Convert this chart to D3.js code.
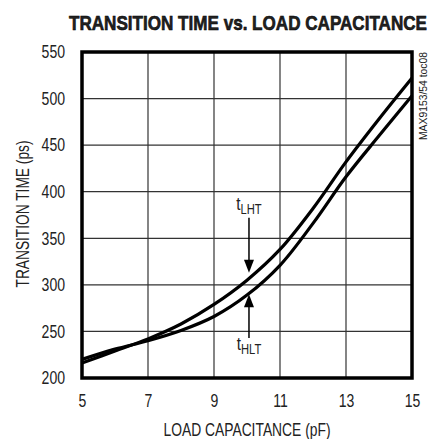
<!DOCTYPE html>
<html>
<head>
<meta charset="utf-8">
<script src="https://cdn.jsdelivr.net/npm/d3@7"></script>
<style>
  body { margin: 0; background: #fff; }
  svg text { font-family: "Liberation Sans", "DejaVu Sans", sans-serif; fill: #222; }
</style>
</head>
<body>
<svg id="chart" width="430" height="439"></svg>
<script>
const capacitance = [5, 6, 7, 8, 9, 10, 11, 12, 13, 14, 15];
const tLHT = [216, 229, 242, 258, 279, 305, 338, 382, 432, 478, 522];
const tHLT = [220, 231, 240, 251, 266, 289, 321, 366, 416, 460, 503];
const xTicks = [5, 7, 9, 11, 13, 15];
const yTicks = [200, 250, 300, 350, 400, 450, 500, 550];

const margin = { top: 52, right: 18, bottom: 61, left: 82 };
const width = 430 - margin.left - margin.right;
const height = 439 - margin.top - margin.bottom;

const svg = d3.select("#chart");
const g = svg.append("g").attr("transform", `translate(${margin.left},${margin.top})`);

const x = d3.scaleLinear().domain([5, 15]).range([0, width]);
const y = d3.scaleLinear().domain([200, 550]).range([height, 0]);

// narrow look: squeeze glyphs horizontally
function squeeze(sel, k) {
  sel.each(function () {
    const len = this.getComputedTextLength();
    d3.select(this).attr("textLength", len * k).attr("lengthAdjust", "spacingAndGlyphs");
  });
}

// grid
g.append("g")
  .selectAll("line")
  .data(xTicks)
  .enter().append("line")
  .attr("x1", d => x(d)).attr("x2", d => x(d))
  .attr("y1", 0).attr("y2", height)
  .attr("stroke", "#333").attr("stroke-width", 1.2);

g.append("g")
  .selectAll("line")
  .data(yTicks)
  .enter().append("line")
  .attr("x1", 0).attr("x2", width)
  .attr("y1", d => y(d)).attr("y2", d => y(d))
  .attr("stroke", "#333").attr("stroke-width", 1.2);

// axes (labels only)
const xAxis = d3.axisBottom(x).tickValues(xTicks).tickSize(0).tickPadding(16).tickFormat(d3.format("d"));
g.append("g")
  .attr("transform", `translate(0,${height})`)
  .call(xAxis)
  .call(a => a.select(".domain").remove())
  .selectAll("text").style("font-size", "18px").attr("fill", "#222")
  .call(squeeze, 0.78);

const yAxis = d3.axisLeft(y).tickValues(yTicks).tickSize(0).tickPadding(17);
g.append("g")
  .call(yAxis)
  .call(a => a.select(".domain").remove())
  .selectAll("text").style("font-size", "18px").attr("fill", "#222")
  .call(squeeze, 0.78);
g.selectAll(".tick text").attr("font-family", null);

// curves
const line = d3.line()
  .x((d, i) => x(capacitance[i]))
  .y(d => y(d))
  .curve(d3.curveCatmullRom.alpha(0.5));

[tLHT, tHLT].forEach(series => {
  g.append("path")
    .datum(series)
    .attr("d", line)
    .attr("fill", "none")
    .attr("stroke", "#000")
    .attr("stroke-width", 3.2);
});

// frame
g.append("rect")
  .attr("x", 0).attr("y", 0)
  .attr("width", width).attr("height", height)
  .attr("fill", "none").attr("stroke", "#000").attr("stroke-width", 3.5);

// annotations (values in ps at the arrow ends)
const arrowX = 10.06;
const arrowLHT = { from: 372, tip: 313 };
const arrowHLT = { from: 243, tip: 290 };
function arrow(a) {
  const py0 = y(a.from), py1 = y(a.tip);
  const dir = py1 > py0 ? 1 : -1;
  const px = x(arrowX);
  g.append("line")
    .attr("x1", px).attr("x2", px)
    .attr("y1", py0).attr("y2", py1 - dir * 10)
    .attr("stroke", "#000").attr("stroke-width", 1.5);
  g.append("path")
    .attr("d", `M${px},${py1} L${px - 5},${py1 - dir * 13} L${px + 5},${py1 - dir * 13} Z`)
    .attr("fill", "#000");
}
arrow(arrowLHT);
arrow(arrowHLT);

function subLabel(cx, cy, sub) {
  const t = g.append("text")
    .attr("x", x(cx)).attr("y", y(cy))
    .attr("text-anchor", "middle");
  t.append("tspan").style("font-size", "19px").text("t");
  t.append("tspan").attr("dy", 4).style("font-size", "14px").text(sub);
  squeeze(t, 0.8);
}
subLabel(arrowX, 380, "LHT");
subLabel(arrowX, 230, "HLT");

// titles
svg.append("text")
  .attr("x", 427).attr("y", 30)
  .attr("text-anchor", "end")
  .attr("textLength", 358).attr("lengthAdjust", "spacingAndGlyphs")
  .style("font-size", "21px").style("font-weight", "bold")
  .attr("fill", "#000").attr("stroke", "#000").attr("stroke-width", 0.6)
  .text("TRANSITION TIME vs. LOAD CAPACITANCE");

svg.append("text")
  .attr("x", 247).attr("y", 436)
  .attr("text-anchor", "middle")
  .attr("textLength", 167).attr("lengthAdjust", "spacingAndGlyphs")
  .style("font-size", "18px")
  .text("LOAD CAPACITANCE (pF)");

svg.append("text")
  .attr("transform", `translate(29,214) rotate(-90)`)
  .attr("text-anchor", "middle")
  .attr("textLength", 147).attr("lengthAdjust", "spacingAndGlyphs")
  .style("font-size", "18px")
  .text("TRANSITION TIME (ps)");

svg.append("text")
  .attr("transform", `translate(427,140) rotate(-90)`)
  .attr("text-anchor", "start")
  .attr("textLength", 88).attr("lengthAdjust", "spacingAndGlyphs")
  .style("font-size", "10px").attr("fill", "#333")
  .text("MAX9153/54 toc08");
</script>
</body>
</html>
